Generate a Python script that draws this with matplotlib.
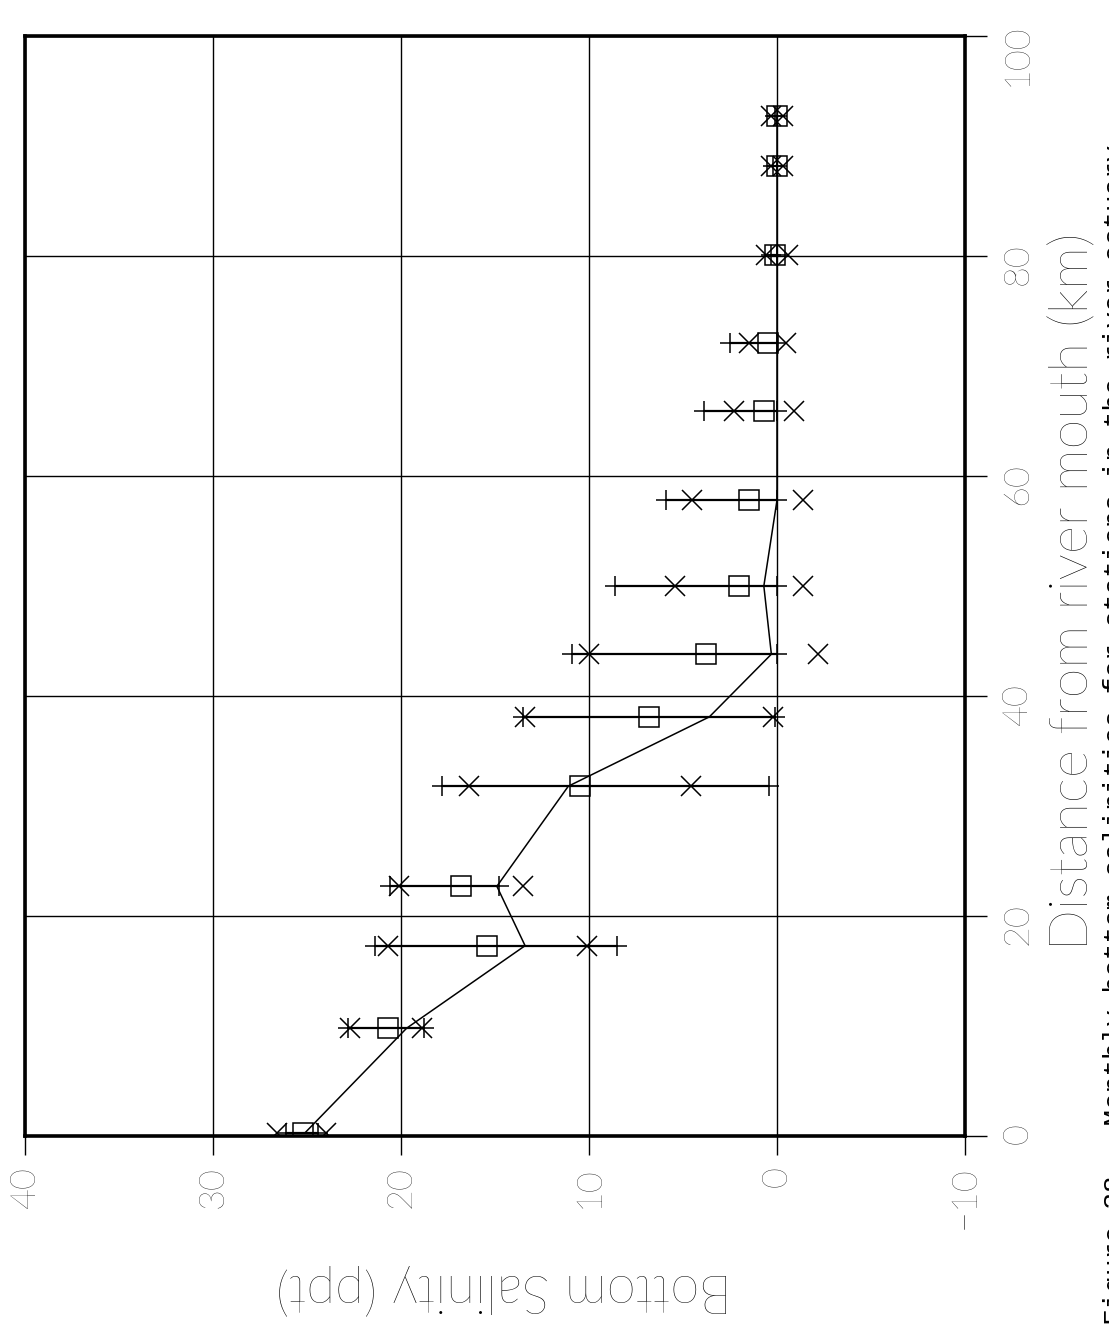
import matplotlib
matplotlib.use('Agg')
import matplotlib.pyplot as plt

# station distance (km) and bottom salinity statistics (ppt)
km = [0.3, 9.8, 17.3, 22.7, 31.8, 38.1, 43.8, 50.0, 57.8, 65.9, 72.1, 80.1, 88.2, 92.7]
sal_max = [26.1, 22.8, 21.4, 20.6, 17.8, 13.5, 10.9, 8.6, 5.9, 3.9, 2.5, 0.3, 0.2, 0.1]
sal_min = [24.4, 18.8, 8.5, 14.8, 0.4, 0.1, 0.0, 0.0, 0.0, 0.0, 0.0, 0.0, 0.0, 0.0]
sd_hi = [26.6, 22.7, 20.7, 20.1, 16.4, 13.4, 10.0, 5.4, 4.5, 2.3, 1.5, 0.6, 0.3, 0.3]
sd_lo = [24.0, 18.9, 10.1, 13.5, 4.6, 0.2, -2.2, -1.4, -1.4, -0.9, -0.5, -0.6, -0.3, -0.3]
sal_mean = [25.2, 20.7, 15.4, 16.8, 10.5, 6.8, 3.8, 2.0, 1.5, 0.7, 0.5, 0.1, 0.0, 0.0]
sal_median = [25.1, 19.7, 13.4, 14.9, 11.1, 3.6, 0.3, 0.7, 0.0, 0.0, 0.0, 0.0, 0.0, 0.0]

sal_ticks = [40, 30, 20, 10, 0, -10]
km_ticks = [0, 20, 40, 60, 80, 100]

plt.rcParams['font.family'] = ['Lato', 'DejaVu Sans']
plt.rcParams['font.weight'] = 'light'

fig = plt.figure(figsize=(11.09, 13.25), dpi=100)
ax = fig.add_axes([25 / 1109, 1 - 1136 / 1325, 940 / 1109, 1100 / 1325])

ax.set_xlim(40, -10)
ax.set_ylim(0, 100)
ax.set_xticks(sal_ticks)
ax.set_yticks(km_ticks)
ax.grid(True, color='black', linewidth=1.0)

# range bars, median line, markers
ax.hlines(km, sal_min, sal_max, color='black', linewidth=1.6)
ax.plot(sal_median, km, color='black', linewidth=1.1)
ax.plot(sal_max, km, '+', color='black', ms=15, mew=1.1, linestyle='none')
ax.plot(sal_min, km, '+', color='black', ms=15, mew=1.1, linestyle='none')
ax.plot(sd_hi, km, 'x', color='black', ms=14, mew=1.1, linestyle='none')
ax.plot(sd_lo, km, 'x', color='black', ms=14, mew=1.1, linestyle='none')
ax.plot(sal_mean, km, 's', color='black', mfc='none', ms=14, mew=1.1, linestyle='none')

for s in ax.spines.values():
    s.set_linewidth(2.6)

ax.yaxis.tick_right()
ax.tick_params(axis='x', bottom=True, top=False, direction='out', length=14,
               width=1, labelsize=26, labelcolor='black', labelrotation=90, pad=8)
ax.tick_params(axis='y', left=False, right=True, direction='out', length=16,
               width=1, labelsize=26, labelcolor='black', labelrotation=90, pad=10)

fig.text(0.968, 0.554, 'Distance from river mouth (km)', rotation=90,
         ha='center', va='center', fontsize=39, color='black')
fig.text(0.454, 0.027, 'Bottom Salinity (ppt)', rotation=180,
         ha='center', va='center', fontsize=38, color='black')

caption = 'Figure 38.  Monthly bottom salinities for stations in the river estuary'
fig.text(1.013, 0.0, caption, rotation=90, rotation_mode='anchor', ha='left',
         va='baseline', family=['Liberation Mono', 'DejaVu Sans Mono'],
         fontsize=20, fontweight='normal')

fig.savefig('out.png', dpi=100)
